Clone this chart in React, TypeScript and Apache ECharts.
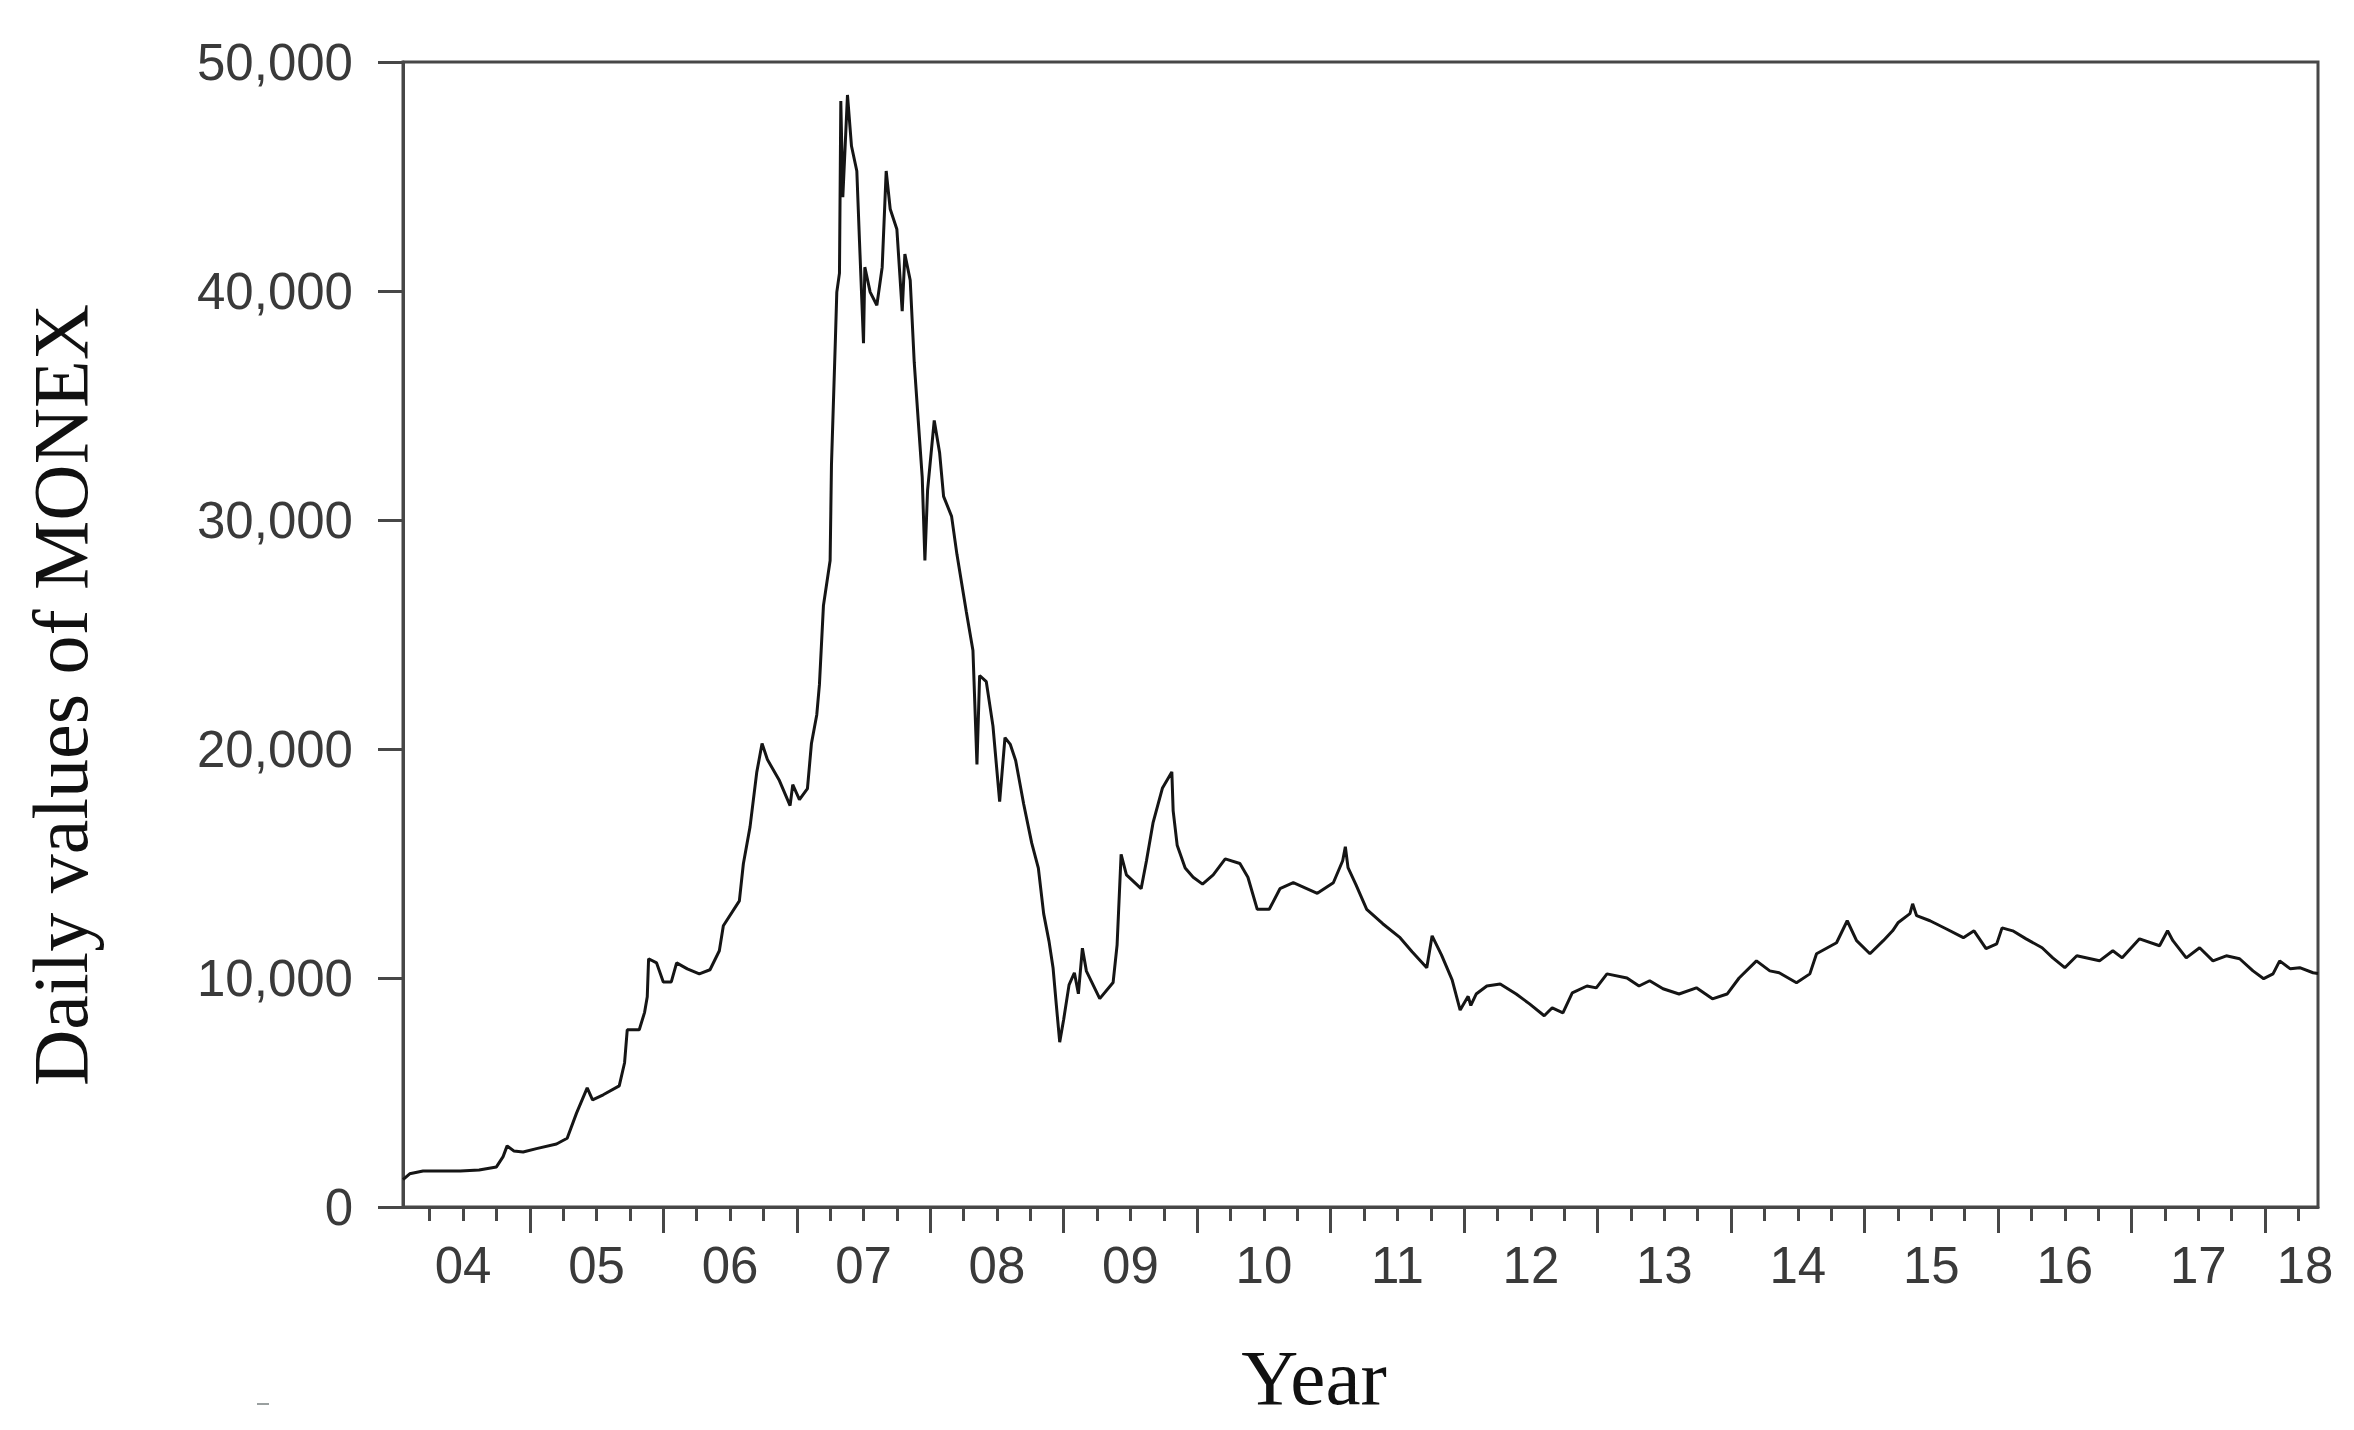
import React, { useEffect, useRef } from "react";
import * as echarts from "echarts";

// Decimal years and the daily MONEX values at those dates
const years = [
  2004.05, 2004.10, 2004.20, 2004.48, 2004.62, 2004.75, 2004.80, 2004.83, 2004.88, 2004.95,
  2005.05, 2005.20, 2005.28, 2005.35, 2005.43, 2005.47, 2005.55, 2005.67, 2005.71, 2005.73,
  2005.82, 2005.86, 2005.88, 2005.89, 2005.95, 2006.00, 2006.06, 2006.10, 2006.18, 2006.27,
  2006.35, 2006.42, 2006.45, 2006.57, 2006.60, 2006.65, 2006.70, 2006.74, 2006.78, 2006.87,
  2006.95, 2006.97, 2007.02, 2007.08, 2007.11, 2007.15, 2007.17, 2007.20, 2007.25, 2007.26,
  2007.29, 2007.30, 2007.32, 2007.33, 2007.345, 2007.36, 2007.38, 2007.41, 2007.45, 2007.47,
  2007.50, 2007.51, 2007.55, 2007.60, 2007.64, 2007.66, 2007.67, 2007.70, 2007.75, 2007.79,
  2007.81, 2007.85, 2007.88, 2007.91, 2007.94, 2007.96, 2007.98, 2008.03, 2008.07, 2008.10,
  2008.16, 2008.20, 2008.27, 2008.32, 2008.35, 2008.37, 2008.42, 2008.47, 2008.52, 2008.56,
  2008.60, 2008.64, 2008.70, 2008.76, 2008.81, 2008.85, 2008.89, 2008.92, 2008.945, 2008.97,
  2009.00, 2009.04, 2009.08, 2009.11, 2009.14, 2009.17, 2009.27, 2009.37, 2009.40, 2009.43,
  2009.47, 2009.58, 2009.62, 2009.67, 2009.74, 2009.81, 2009.82, 2009.85, 2009.91, 2009.97,
  2010.04, 2010.12, 2010.21, 2010.32, 2010.38, 2010.45, 2010.54, 2010.62, 2010.72, 2010.90,
  2011.02, 2011.09, 2011.11, 2011.13, 2011.19, 2011.27, 2011.39, 2011.52, 2011.61, 2011.72,
  2011.76, 2011.83, 2011.91, 2011.97, 2012.03, 2012.05, 2012.09, 2012.17, 2012.27, 2012.39,
  2012.49, 2012.60, 2012.66, 2012.74, 2012.81, 2012.92, 2012.99, 2013.07, 2013.22, 2013.31,
  2013.39, 2013.49, 2013.61, 2013.74, 2013.86, 2013.97, 2014.06, 2014.19, 2014.29, 2014.36,
  2014.49, 2014.59, 2014.64, 2014.79, 2014.87, 2014.94, 2015.04, 2015.14, 2015.21, 2015.25,
  2015.34, 2015.36, 2015.39, 2015.49, 2015.61, 2015.74, 2015.82, 2015.91, 2015.99, 2016.03,
  2016.11, 2016.21, 2016.33, 2016.41, 2016.50, 2016.59, 2016.76, 2016.86, 2016.93, 2017.06,
  2017.21, 2017.27, 2017.31, 2017.41, 2017.51, 2017.61, 2017.71, 2017.81, 2017.91, 2017.99,
  2018.06, 2018.11, 2018.19, 2018.26, 2018.36, 2018.397,
];

const values = [
  1200, 1450, 1570, 1570, 1620, 1750, 2200, 2670, 2450, 2400,
  2550, 2750, 3000, 4100, 5200, 4680, 4900, 5290, 6300, 7740,
  7740, 8500, 9180, 10840, 10660, 9830, 9830, 10660, 10400, 10180,
  10360, 11190, 12280, 13370, 14990, 16600, 18970, 20240, 19540, 18620,
  17530, 18440, 17790, 18270, 20240, 21500, 22820, 26270, 28230, 32390,
  37980, 39950, 40780, 48300, 44100, 46000, 48560, 46330, 45240, 42180,
  37720, 41040, 39950, 39380, 41040, 43840, 45240, 43580, 42700, 39120,
  41610, 40470, 36890, 34350, 31860, 28230, 31290, 34350, 32950, 31030,
  30160, 28500, 26000, 24300, 19320, 23210, 22940, 21000, 17700, 20500,
  20200, 19500, 17600, 15900, 14800, 12800, 11600, 10450, 8800, 7200,
  8200, 9700, 10230, 9310, 11300, 10300, 9100, 9800, 11450, 15400,
  14500, 13900, 15120, 16800, 18300, 19000, 17300, 15800, 14800, 14400,
  14100, 14500, 15200, 15000, 14400, 13000, 13000, 13900, 14160, 13700,
  14160, 15120, 15730, 14820, 14070, 13000, 12370, 11760, 11150, 10450,
  11840, 11010, 9920, 8600, 9200, 8800, 9300, 9650, 9740, 9300,
  8870, 8350, 8700, 8480, 9350, 9650, 9570, 10180, 10000, 9650,
  9880, 9530, 9300, 9570, 9090, 9300, 10000, 10750, 10310, 10230,
  9790, 10180, 11060, 11540, 12500, 11630, 11060, 11630, 12060, 12410,
  12810, 13240, 12720, 12500, 12150, 11760, 12060, 11280, 11490, 12190,
  12060, 11710, 11320, 10880, 10450, 10970, 10750, 11190, 10880, 11710,
  11410, 12060, 11630, 10880, 11320, 10750, 10970, 10840, 10310, 9970,
  10180, 10750, 10400, 10450, 10230, 10200,
];

// Axis extent (decimal years) and tick positions
const xMin = 2004.05;
const xMax = 2018.397;
const yearTicks = [2005, 2006, 2007, 2008, 2009, 2010, 2011, 2012, 2013, 2014, 2015, 2016, 2017, 2018];
const quarterTicks = [
  2004.25, 2004.5, 2004.75,
  2005.25, 2005.5, 2005.75, 2006.25, 2006.5, 2006.75, 2007.25, 2007.5, 2007.75,
  2008.25, 2008.5, 2008.75, 2009.25, 2009.5, 2009.75, 2010.25, 2010.5, 2010.75,
  2011.25, 2011.5, 2011.75, 2012.25, 2012.5, 2012.75, 2013.25, 2013.5, 2013.75,
  2014.25, 2014.5, 2014.75, 2015.25, 2015.5, 2015.75, 2016.25, 2016.5, 2016.75,
  2017.25, 2017.5, 2017.75, 2018.25,
];
const yearLabelPositions = [
  2004.5, 2005.5, 2006.5, 2007.5, 2008.5, 2009.5, 2010.5, 2011.5, 2012.5,
  2013.5, 2014.5, 2015.5, 2016.5, 2017.5, 2018.3,
];

const yTicks = { min: 0, max: 50000, interval: 10000 };

const AXIS_COLOR = "#474747";
const TEXT_COLOR = "#3a3a3a";

export default function App() {
  const ref = useRef<HTMLDivElement>(null);

  useEffect(() => {
    if (!ref.current) return;
    const chart = echarts.init(ref.current, undefined, { renderer: "svg" });
    const data = years.map((y, i) => [y, values[i]]);

    chart.setOption({
      animation: false,
      backgroundColor: "#ffffff",
      grid: {
        left: 403,
        right: 36,
        top: 62,
        bottom: 223,
        show: true,
        borderColor: AXIS_COLOR,
        borderWidth: 3,
        backgroundColor: "transparent",
      },
      xAxis: [
        {
          type: "value",
          position: "bottom",
          min: xMin,
          max: xMax,
          axisLine: { show: true, lineStyle: { color: AXIS_COLOR, width: 3 } },
          axisTick: {
            show: true,
            customValues: quarterTicks,
            length: 14,
            lineStyle: { color: AXIS_COLOR, width: 3 },
          },
          axisLabel: {
            show: true,
            customValues: yearLabelPositions,
            formatter: (v: number) => String(Math.floor(v) % 100).padStart(2, "0"),
            fontSize: 51,
            fontFamily: "Liberation Sans, Arial, sans-serif",
            color: TEXT_COLOR,
            margin: 33,
          },
          splitLine: { show: false },
        },
        {
          type: "value",
          position: "bottom",
          min: xMin,
          max: xMax,
          axisLine: { show: false },
          axisTick: {
            show: true,
            customValues: yearTicks,
            length: 26,
            lineStyle: { color: AXIS_COLOR, width: 3 },
          },
          axisLabel: { show: false },
          splitLine: { show: false },
        },
      ],
      yAxis: {
        type: "value",
        min: yTicks.min,
        max: yTicks.max,
        interval: yTicks.interval,
        axisLine: { show: true, lineStyle: { color: AXIS_COLOR, width: 3 } },
        axisTick: { show: true, length: 25, lineStyle: { color: AXIS_COLOR, width: 3 } },
        axisLabel: {
          formatter: (v: number) => v.toLocaleString("en-US"),
          fontSize: 51,
          fontFamily: "Liberation Sans, Arial, sans-serif",
          color: TEXT_COLOR,
          margin: 50,
          padding: [0, 0, 14, 0],
        },
        splitLine: { show: false },
      },
      graphic: [
        {
          type: "text",
          x: 60,
          y: 695,
          rotation: Math.PI / 2,
          style: {
            text: "Daily values of MONEX",
            fontSize: 78,
            fontFamily: "Liberation Serif, Times New Roman, serif",
            fill: "#111111",
            align: "center",
            verticalAlign: "middle",
          },
        },
        {
          type: "text",
          x: 1314,
          y: 1377,
          style: {
            text: "Year",
            fontSize: 79,
            fontFamily: "Liberation Serif, Times New Roman, serif",
            fill: "#111111",
            align: "center",
            verticalAlign: "middle",
          },
        },
        {
          type: "line",
          shape: { x1: 257, y1: 1404, x2: 269, y2: 1404 },
          style: { stroke: "#9aa0a0", lineWidth: 2 },
        },
      ],
      series: [
        {
          type: "line",
          xAxisIndex: 0,
          data,
          showSymbol: false,
          symbol: "none",
          lineStyle: { color: "#151515", width: 3 },
          silent: true,
        },
      ],
    });

    return () => chart.dispose();
  }, []);

  return (
    <div
      ref={ref}
      style={{ position: "absolute", left: 0, top: 0, width: 2354, height: 1430 }}
    />
  );
}
